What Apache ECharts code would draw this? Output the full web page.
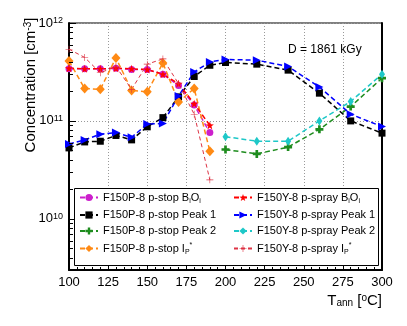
<!DOCTYPE html>
<html>
<head>
<meta charset="utf-8">
<script src="https://cdn.jsdelivr.net/npm/echarts@6/dist/echarts.min.js"></script>
<style>
  html, body { margin: 0; padding: 0; background: #fff; }
  #chart { width: 407px; height: 326px; }
</style>
</head>
<body>
<div id="chart"></div>
<script>
// annealing temperatures [C]
const tempLow = [100, 110, 120, 130, 140, 150, 160, 170, 180, 190];
const tempAll = [100, 110, 120, 130, 140, 150, 160, 170, 180, 190, 200, 220, 240, 260, 280, 300];
const tempHigh = [200, 220, 240, 260, 280, 300];

// concentrations [cm^-3]
const pStopBiOi = [3.4e11, 3.4e11, 3.4e11, 3.45e11, 3.35e11, 3.35e11, 3.0e11, 2.3e11, 1.45e11, 7.6e10];
const pStopPeak1 = [5.3e10, 6.1e10, 6.2e10, 7.1e10, 6.4e10, 8.7e10, 1.08e11, 1.76e11, 2.84e11, 3.7e11, 3.95e11, 3.8e11, 3.3e11, 1.92e11, 1.0e11, 7.5e10];
const pStopPeak2 = [5.1e10, 4.6e10, 5.4e10, 8.2e10, 1.4e11, 2.73e11];
const pStopIp = [4.1e11, 2.14e11, 2.1e11, 4.4e11, 2.05e11, 1.98e11, 3.9e11, 1.56e11, 2.14e11, 4.9e10];
const pSprayBiOi = [3.45e11, 3.4e11, 3.4e11, 3.45e11, 3.4e11, 3.35e11, 3.0e11, 2.4e11, 1.5e11, 9.0e10];
const pSprayPeak1 = [5.8e10, 6.4e10, 7.3e10, 7.6e10, 6.8e10, 9.3e10, 9.4e10, 1.8e11, 3.16e11, 4.0e11, 4.24e11, 4.17e11, 3.6e11, 2.22e11, 1.17e11, 8.75e10];
const pSprayPeak2 = [6.9e10, 6.2e10, 6.2e10, 1.0e11, 1.58e11, 3.0e11];
const pSprayIp = [5.4e11, 4.45e11, 3.1e11, 3.6e11, 2.1e11, 3.8e11, 4.3e11, 2.4e11, 1.17e11, 2.5e10];

const legendLeft = ['F150P-8 p-stop BiOi', 'F150P-8 p-stop Peak 1', 'F150P-8 p-stop Peak 2', 'F150P-8 p-stop Ip'];
const legendRight = ['F150Y-8 p-spray BiOi', 'F150Y-8 p-spray Peak 1', 'F150Y-8 p-spray Peak 2', 'F150Y-8 p-spray Ip'];

const FONT = '"Liberation Sans", Arial, Helvetica, sans-serif';

const STAR = 'path://M0,-10L2.35,-3.24L9.51,-3.09L3.8,1.24L5.88,8.09L0,4L-5.88,8.09L-3.8,1.24L-9.51,-3.09L-2.35,-3.24Z';
const CROSS = 'path://M-1,-3H1V-1H3V1H1V3H-1V1H-3V-1H-1Z';
const PLUS = 'path://M-0.25,-3H0.25V-0.25H3V0.25H0.25V3H-0.25V0.25H-3V-0.25H-0.25Z';

function zip(xs, ys) {
  return xs.map((x, i) => [x, ys[i]]);
}

function mkSeries(name, xs, ys, color, symbol, size, extra) {
  return Object.assign({
    name: name,
    type: 'line',
    data: zip(xs, ys),
    symbol: symbol,
    symbolSize: size,
    itemStyle: { color: color },
    lineStyle: { color: color, width: 1.5, type: [5, 3] },
    emphasis: { disabled: true },
    animation: false
  }, extra || {});
}

function legendText(name) {
  const parts = name.split(' ');
  const last = parts.pop();
  const head = parts.join(' ') + ' ';
  if (last === 'BiOi') return '{t|' + head + 'B}{sub|i}{t|O}{sub|i}';
  if (last === 'Ip') return '{t|' + head + 'I}{sub|P}{sup|*}';
  return '{t|' + name + '}';
}

const legendRich = {
  t: { fontFamily: FONT, fontSize: 11, lineHeight: 14, verticalAlign: 'middle', color: '#000' },
  sub: { fontFamily: FONT, fontSize: 7, lineHeight: 7, verticalAlign: 'bottom', color: '#000' },
  sup: { fontFamily: FONT, fontSize: 7, lineHeight: 7, verticalAlign: 'top', color: '#000' }
};

function mkLegend(left, names) {
  return {
    orient: 'vertical',
    left: left,
    top: 192,
    padding: 0,
    itemWidth: 18,
    itemHeight: 9,
    itemGap: 5,
    selectedMode: false,
    z: 10,
    data: names,
    formatter: legendText,
    textStyle: { fontFamily: FONT, fontSize: 11, color: '#000', rich: legendRich }
  };
}

const chart = echarts.init(document.getElementById('chart'), null, { renderer: 'canvas' });

const option = {
  backgroundColor: '#fff',
  animation: false,
  grid: {
    left: 69, right: 25, top: 23, bottom: 56,
    show: true, borderColor: '#000', borderWidth: 1, backgroundColor: 'transparent'
  },
  legend: [mkLegend(79, legendLeft), mkLegend(233, legendRight)],
  xAxis: {
    type: 'value',
    min: 100,
    max: 300,
    interval: 25,
    axisLine: { lineStyle: { color: '#000', width: 2 } },
    axisTick: { inside: true, length: 7, lineStyle: { color: '#000' } },
    minorTick: { show: true, splitNumber: 5, length: 3, lineStyle: { color: '#000' } },
    axisLabel: { fontFamily: FONT, fontSize: 13, color: '#000', margin: 6 },
    splitLine: { show: true, lineStyle: { color: '#999', type: [1, 2], width: 1 } }
  },
  yAxis: [{
    type: 'log',
    logBase: 10,
    min: 3e9,
    max: 1e12,
    axisLine: { show: true, lineStyle: { color: '#000', width: 2 } },
    axisTick: { show: true, inside: true, length: 7, lineStyle: { color: '#000' } },
    axisLabel: {
      margin: 6,
      formatter: function (v) {
        const e = Math.log10(v);
        if (Math.abs(e - Math.round(e)) > 1e-6) return '';
        return '{b|10}{e|' + Math.round(e) + '}';
      },
      rich: {
        b: { fontFamily: FONT, fontSize: 13, lineHeight: 13, verticalAlign: 'middle', color: '#000' },
        e: { fontFamily: FONT, fontSize: 9, lineHeight: 9, padding: [0, 0, 14, 0], verticalAlign: 'top', color: '#000' }
      }
    },
    splitLine: { show: true, lineStyle: { color: '#999', type: [1, 2], width: 1 } }
  }, {
    type: 'log',
    position: 'right',
    min: 3e9,
    max: 1e12,
    axisLine: { show: true, lineStyle: { color: '#000', width: 2 } },
    axisTick: { show: false },
    axisLabel: { show: false },
    splitLine: { show: false }
  }],
  series: [
    mkSeries(legendLeft[0], tempLow, pStopBiOi, '#cc1fcc', 'circle', 7),
    mkSeries(legendLeft[1], tempAll, pStopPeak1, '#000000', 'rect', 7),
    mkSeries(legendLeft[2], tempHigh, pStopPeak2, '#1e8c1e', CROSS, 8),
    mkSeries(legendLeft[3], tempLow, pStopIp, '#ff8a14', 'diamond', [9, 10]),
    mkSeries(legendRight[0], tempLow, pSprayBiOi, '#ff0000', STAR, 8),
    mkSeries(legendRight[1], tempAll, pSprayPeak1, '#0000ff', 'triangle', 8, { symbolRotate: -90 }),
    mkSeries(legendRight[2], tempHigh, pSprayPeak2, '#1ec8c8', 'diamond', [6, 9]),
    mkSeries(legendRight[3], tempLow, pSprayIp, '#dd3344', PLUS, 7, {
      lineStyle: { color: '#dd3344', width: 1, type: [4, 3] }
    })
  ],
  graphic: [
    {
      id: 'legendBox', type: 'rect', z: 5,
      shape: { x: 74.5, y: 188.5, width: 304, height: 77 },
      style: { fill: '#fff', stroke: '#000', lineWidth: 1 }
    },
    {
      id: 'dose', type: 'text', z: 20, x: 288, y: 50,
      style: { text: 'D = 1861 kGy', font: '12px ' + FONT, fill: '#000', verticalAlign: 'middle' }
    },
    {
      id: 'ytitle', type: 'text', z: 20, x: 31, y: 85, rotation: Math.PI / 2,
      style: {
        text: '{t|Concentration [cm}{s|-3}{t|]}',
        align: 'center', verticalAlign: 'middle',
        rich: {
          t: { fontFamily: FONT, fontSize: 15, lineHeight: 15, verticalAlign: 'middle', fill: '#000' },
          s: { fontFamily: FONT, fontSize: 10, lineHeight: 10, padding: [0, 0, 12, 0], verticalAlign: 'top', fill: '#000' }
        }
      }
    },
    {
      id: 'xtitle', type: 'text', z: 20, x: 382, y: 301,
      style: {
        text: '{t|T}{sub|ann}{t| [}{sup|o}{t|C]}',
        align: 'right', verticalAlign: 'middle',
        rich: {
          t: { fontFamily: FONT, fontSize: 15, lineHeight: 15, verticalAlign: 'middle', fill: '#000' },
          sub: { fontFamily: FONT, fontSize: 10, lineHeight: 10, padding: [8, 0, 0, 0], verticalAlign: 'bottom', fill: '#000' },
          sup: { fontFamily: FONT, fontSize: 10, lineHeight: 10, padding: [0, 0, 12, 0], verticalAlign: 'top', fill: '#000' }
        }
      }
    }
  ]
};

chart.setOption(option);

// minor ticks of the log axis at 2..9 x 10^n
const x0 = chart.convertToPixel({ xAxisIndex: 0 }, 100);
const ticks = [];
for (let dec = 9; dec <= 11; dec++) {
  for (let m = 2; m <= 9; m++) {
    const v = m * Math.pow(10, dec);
    if (v < 3e9 || v > 1e12) continue;
    const y = Math.round(chart.convertToPixel({ yAxisIndex: 0 }, v)) + 0.5;
    ticks.push({
      id: 'minor-' + dec + '-' + m,
      type: 'line', z: 4, silent: true,
      shape: { x1: x0, y1: y, x2: x0 + 4, y2: y },
      style: { stroke: '#000', lineWidth: 1 }
    });
  }
}
chart.setOption({ graphic: ticks });
</script>
</body>
</html>
